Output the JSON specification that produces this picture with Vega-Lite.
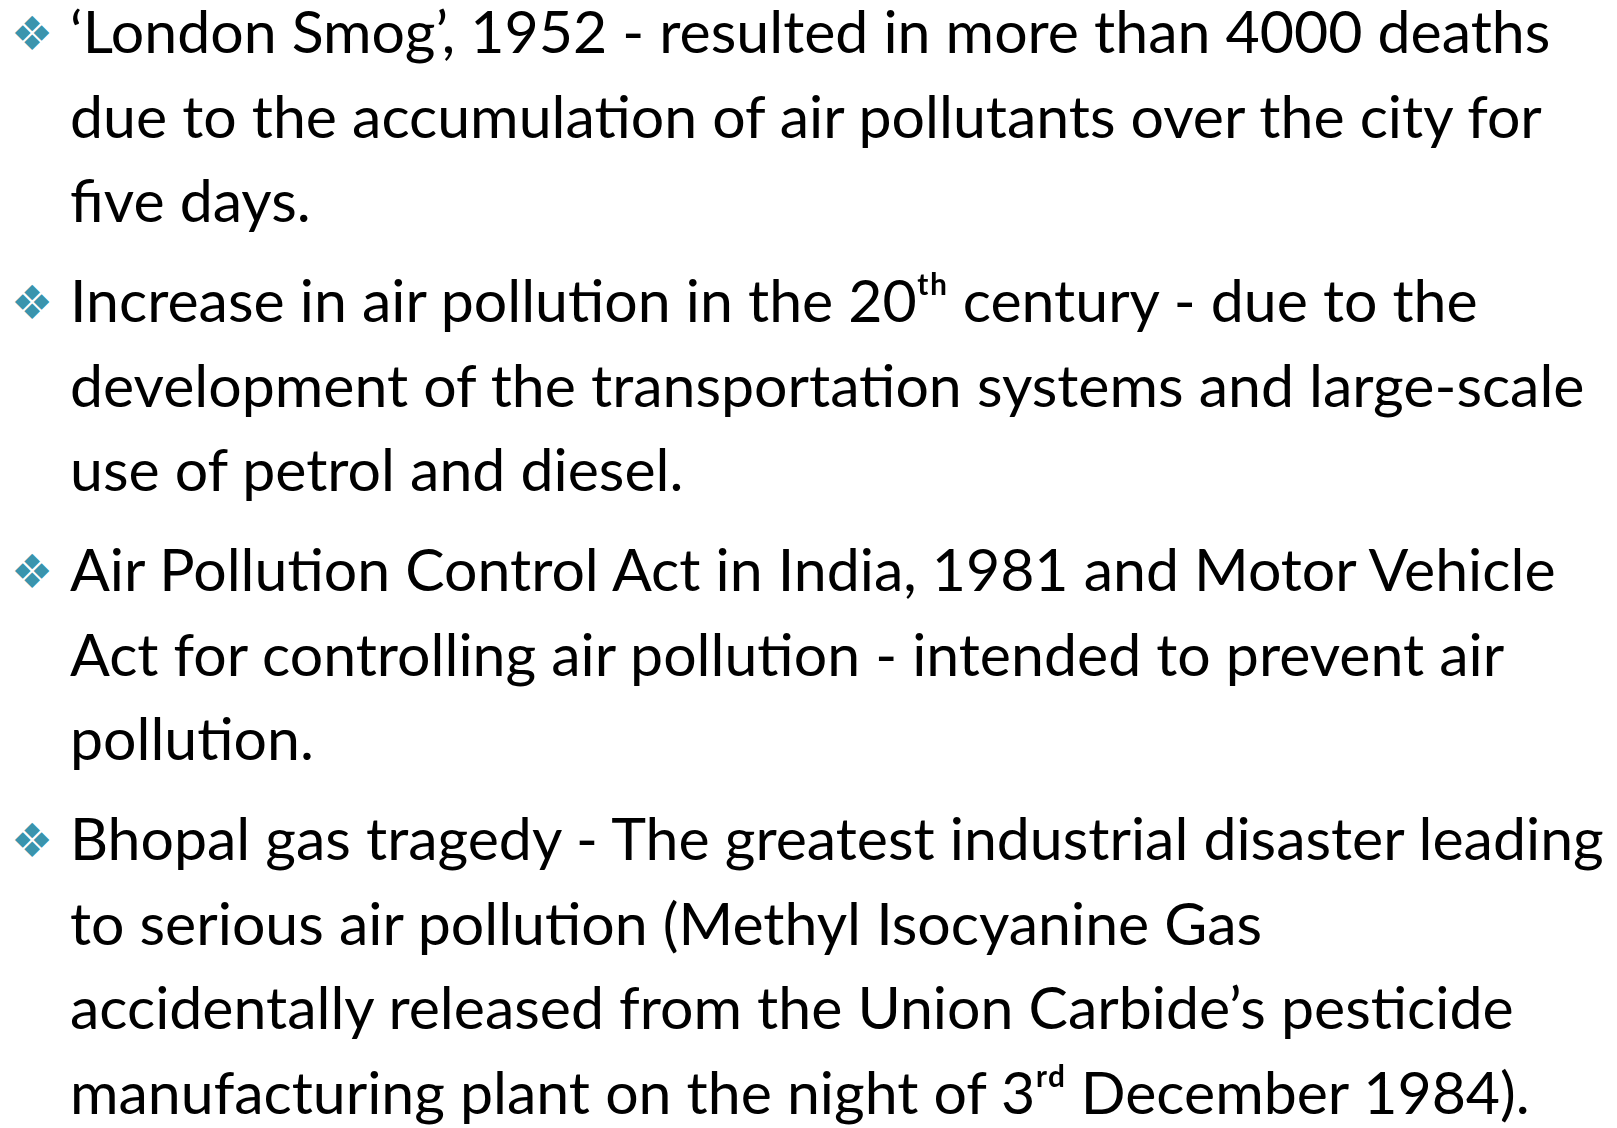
{
  "$schema": "https://vega.github.io/schema/vega-lite/v6.json",
  "width": 1617,
  "height": 1128,
  "padding": 0,
  "autosize": {"type": "none"},
  "background": "white",
  "config": {"view": {"stroke": null}},
  "data": {
    "values": [
      {"line": 1, "para": 1, "role": "bullet", "text": "❖"},
      {"line": 4, "para": 2, "role": "bullet", "text": "❖"},
      {"line": 7, "para": 3, "role": "bullet", "text": "❖"},
      {"line": 10, "para": 4, "role": "bullet", "text": "❖"},
      {"line": 1, "para": 1, "role": "text", "text": "‘London Smog’, 1952 - resulted in more than 4000 deaths"},
      {"line": 2, "para": 1, "role": "text", "text": "due to the accumulation of air pollutants over the city for"},
      {"line": 3, "para": 1, "role": "text", "text": "five days."},
      {"line": 4, "para": 2, "role": "text", "text": "Increase in air pollution in the 20ᵗʰ century  - due to the"},
      {"line": 5, "para": 2, "role": "text", "text": "development of the transportation systems and large-scale"},
      {"line": 6, "para": 2, "role": "text", "text": "use of petrol and diesel."},
      {"line": 7, "para": 3, "role": "text", "text": "Air Pollution Control Act in India, 1981 and Motor Vehicle"},
      {"line": 8, "para": 3, "role": "text", "text": "Act for controlling air pollution - intended to prevent air"},
      {"line": 9, "para": 3, "role": "text", "text": "pollution."},
      {"line": 10, "para": 4, "role": "text", "text": "Bhopal gas tragedy - The greatest industrial disaster leading"},
      {"line": 11, "para": 4, "role": "text", "text": "to serious air pollution  (Methyl Isocyanine Gas"},
      {"line": 12, "para": 4, "role": "text", "text": "accidentally released from the Union Carbide’s pesticide"},
      {"line": 13, "para": 4, "role": "text", "text": "manufacturing plant on the night of 3ʳᵈ December 1984)."}
    ]
  },
  "encoding": {
    "x": {"field": "role", "type": "nominal", "axis": null, "scale": {"type": "point", "domain": ["bullet", "text"], "range": [11, 70], "padding": 0}},
    "y": {"field": "line", "type": "ordinal", "axis": null, "scale": {"type": "point", "domain": [1, 2, 3, 4, 5, 6, 7, 8, 9, 10, 11, 12, 13], "range": [53, 1067], "padding": 0}},
    "yOffset": {"field": "para", "type": "ordinal", "scale": {"type": "point", "domain": [1, 2, 3, 4], "range": [0, 46.5], "padding": 0}},
    "text": {"field": "text", "type": "nominal"}
  },
  "layer": [
    {
      "transform": [{"filter": "datum.role === 'bullet'"}],
      "mark": {"type": "text", "align": "left", "baseline": "alphabetic", "font": "DejaVu Sans", "fontSize": 47, "color": "#3a94ad", "dy": -3}
    },
    {
      "transform": [{"filter": "datum.role === 'text'"}],
      "mark": {"type": "text", "align": "left", "baseline": "alphabetic", "font": "Lato", "fontSize": 59, "color": "#000000"}
    }
  ]
}
